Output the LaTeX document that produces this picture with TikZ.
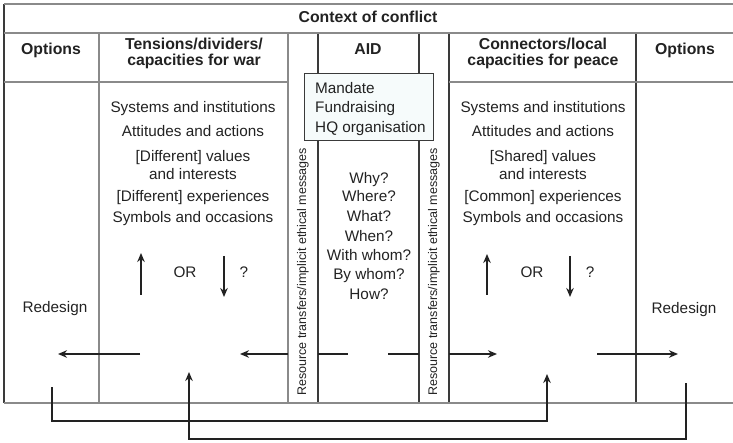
\documentclass[tikz,border=0pt]{standalone}
\usepackage{fontspec}
\setmainfont{Liberation Sans}
\usetikzlibrary{arrows.meta}
\definecolor{ink}{HTML}{222222}
\definecolor{gridgray}{HTML}{8A8A8A}
\definecolor{griddark}{HTML}{3A3A3A}
\definecolor{boxfill}{HTML}{F6FBFB}
\tikzset{
  txt/.style={inner sep=0pt, text=ink, font=\fontsize{15.3}{18}\selectfont, anchor=base},
  hdr/.style={txt, font=\fontsize{15.8}{18}\selectfont\bfseries},
  rot/.style={inner sep=0pt, text=ink, font=\fontsize{12.5}{15}\selectfont, rotate=90},
  hline/.style={draw=gridgray, line width=1.6pt},
  vlight/.style={draw=gridgray, line width=1.2pt},
  vdark/.style={draw=griddark, line width=1.1pt},
  flow/.style={draw=ink, line width=1.6pt, -{Stealth[length=9pt,width=7.5pt]}},
  flowplain/.style={draw=ink, line width=1.6pt},
  loop/.style={draw=ink, line width=2pt, -{Stealth[length=9pt,width=7.5pt]}},
}
\begin{document}
\begin{tikzpicture}[x=1pt,y=-1pt]
\useasboundingbox (0,0) rectangle (733,443);
% grid
\draw[vdark] (4,4) -- (4,403);
\draw[vlight] (99,33) -- (99,403);
\draw[vlight] (288,33) -- (288,403);
\draw[vdark] (318,33) -- (318,403);
\draw[vdark] (419,33) -- (419,403);
\draw[vdark] (449,33) -- (449,403);
\draw[vdark] (636,33) -- (636,403);
\draw[hline] (4,4) -- (733,4);
\draw[hline] (4,33) -- (733,33);
\draw[hline] (4,82) -- (288,82);
\draw[hline] (449,82) -- (733,82);
\draw[hline] (4,403) -- (733,403);
% headers
\node[hdr] (ctx) at (368,23) {Context of conflict};
\node[hdr] (optL) at (51,55) {Options};
\node[hdr, align=center, anchor=north] (tens) at (194,38) {Tensions/dividers/\\[-2pt]capacities for war};
\node[hdr] (aid) at (368,55) {AID};
\node[hdr, align=center, anchor=north] (conn) at (543,38) {Connectors/local\\[-2pt]capacities for peace};
\node[hdr] (optR) at (685,55) {Options};
% mandate box
\draw[draw=griddark, line width=1pt, fill=boxfill] (304,74) rectangle (433,141);
\node[txt, anchor=base west] (mand) at (315,93.5) {Mandate};
\node[txt, anchor=base west] (fund) at (315,113) {Fundraising};
\node[txt, anchor=base west] (hq) at (315,132.5) {HQ organisation};
% left list
\node[txt] (l1) at (193,113) {Systems and institutions};
\node[txt] (l2) at (193,137) {Attitudes and actions};
\node[txt] (l3) at (193,161.5) {[Different] values};
\node[txt] (l4) at (193,180) {and interests};
\node[txt] (l5) at (193,202) {[Different] experiences};
\node[txt] (l6) at (193,223) {Symbols and occasions};
% right list
\node[txt] (r1) at (543,113) {Systems and institutions};
\node[txt] (r2) at (543,137) {Attitudes and actions};
\node[txt] (r3) at (543,161.5) {[Shared] values};
\node[txt] (r4) at (543,180) {and interests};
\node[txt] (r5) at (543,202) {[Common] experiences};
\node[txt] (r6) at (543,223) {Symbols and occasions};
% AID questions
\node[txt] (q1) at (369,183.5) {Why?};
\node[txt] (q2) at (369,202) {Where?};
\node[txt] (q3) at (369,221.5) {What?};
\node[txt] (q4) at (369,241.5) {When?};
\node[txt] (q5) at (369,261) {With whom?};
\node[txt] (q6) at (369,280) {By whom?};
\node[txt] (q7) at (369,299.5) {How?};
% rotated
\node[rot] (resL) at (303,272) {Resource transfers/implicit ethical messages};
\node[rot] (resR) at (434,272) {Resource transfers/implicit ethical messages};
% OR rows
\node[txt] (orL) at (185,278) {OR};
\node[txt] (qL) at (244,278) {?};
\node[txt] (orR) at (532,278) {OR};
\node[txt] (qR) at (590,278) {?};
\coordinate (uL1) at (141,295); \coordinate (uL2) at (141,253);
\coordinate (dL1) at (224,256); \coordinate (dL2) at (224,297);
\coordinate (uR1) at (487,295); \coordinate (uR2) at (487,254);
\coordinate (dR1) at (570,256); \coordinate (dR2) at (570,297);
\draw[flow] (uL1) -- (uL2);
\draw[flow] (dL1) -- (dL2);
\draw[flow] (uR1) -- (uR2);
\draw[flow] (dR1) -- (dR2);
% redesign
\node[txt] (redL) at (55,312.5) {Redesign};
\node[txt] (redR) at (684,313) {Redesign};
% horizontal flow
\coordinate (h1a) at (140,354); \coordinate (h1b) at (58,354);
\coordinate (h2a) at (288,354); \coordinate (h2b) at (240,354);
\coordinate (h3a) at (318,354); \coordinate (h3b) at (348,354);
\coordinate (h4a) at (388,354); \coordinate (h4b) at (419,354);
\coordinate (h5a) at (449,354); \coordinate (h5b) at (497,354);
\coordinate (h6a) at (597,354); \coordinate (h6b) at (678,354);
\draw[flow] (h1a) -- (h1b);
\draw[flow] (h2a) -- (h2b);
\draw[flowplain] (h3a) -- (h3b);
\draw[flowplain] (h4a) -- (h4b);
\draw[flow] (h5a) -- (h5b);
\draw[flow] (h6a) -- (h6b);
% feedback loops
\coordinate (fa) at (52,387); \coordinate (fb) at (547,374);
\coordinate (ga) at (686,383); \coordinate (gb) at (189,372);
\draw[loop] (fa) |- (547,421) -- (fb);
\draw[loop] (ga) |- (189,439) -- (gb);
\end{tikzpicture}
\end{document}
